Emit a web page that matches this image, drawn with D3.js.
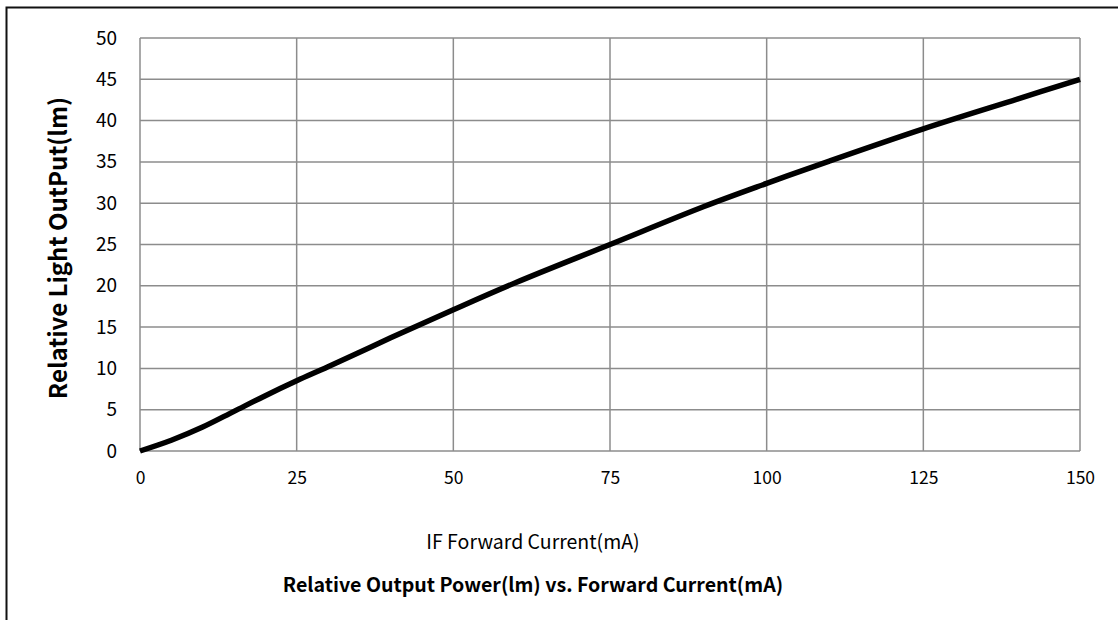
<!doctype html>
<html>
<head>
<meta charset="utf-8">
<script src="https://d3js.org/d3.v7.min.js"></script>
<style>
body { margin: 0; background: #fff; }
text { font-family: "Noto Sans CJK KR", "Noto Sans", sans-serif; fill: #000; }
</style>
</head>
<body>
<script>
var width = 1118;
var height = 620;

// forward current (mA) and relative light output (lm)
var current = [0, 5, 10, 15, 20, 25, 30, 40, 50, 60, 75, 90, 100, 110, 125, 140, 150];
var output  = [0, 1.3, 2.9, 4.8, 6.7, 8.5, 10.2, 13.7, 17.1, 20.4, 25.0, 29.6, 32.4, 35.1, 39.0, 42.6, 45.0];

var xTicks = [0, 25, 50, 75, 100, 125, 150];
var yTicks = [0, 5, 10, 15, 20, 25, 30, 35, 40, 45, 50];

var xTitle = "IF Forward Current(mA)";
var yTitle = "Relative Light OutPut(lm)";
var title = "Relative Output Power(lm) vs. Forward Current(mA)";

var plot = {left: 140, right: 1080, top: 38, bottom: 451};

var svg = d3.select("body").append("svg")
    .attr("width", width)
    .attr("height", height);

// outer frame (only top and left show)
svg.append("path")
    .attr("d", "M6.5,620 V7.5 H1118")
    .attr("fill", "none")
    .attr("stroke", "#111")
    .attr("stroke-width", 2);

var x = d3.scaleLinear().domain([0, 150]).range([plot.left, plot.right]);
var y = d3.scaleLinear().domain([0, 50]).range([plot.bottom, plot.top]);

var grid = svg.append("g");

grid.selectAll("line.h")
    .data(yTicks)
    .enter()
    .append("line")
    .attr("class", "h")
    .attr("x1", plot.left)
    .attr("x2", plot.right)
    .attr("y1", function (d) { return y(d); })
    .attr("y2", function (d) { return y(d); })
    .attr("stroke", "#8c8c8c")
    .attr("stroke-width", 1.5);

grid.selectAll("line.v")
    .data(xTicks)
    .enter()
    .append("line")
    .attr("class", "v")
    .attr("x1", function (d) { return x(d); })
    .attr("x2", function (d) { return x(d); })
    .attr("y1", plot.top)
    .attr("y2", plot.bottom)
    .attr("stroke", "#8c8c8c")
    .attr("stroke-width", 1.5);

// y axis labels
var yAxis = svg.append("g")
    .attr("transform", "translate(" + plot.left + ",0)")
    .call(d3.axisLeft(y).tickValues(yTicks).tickSize(0).tickPadding(23));
yAxis.select(".domain").remove();
yAxis.selectAll("text")
    .style("font-size", "19px");

// x axis labels
var xAxis = svg.append("g")
    .attr("transform", "translate(0," + plot.bottom + ")")
    .call(d3.axisBottom(x).tickValues(xTicks).tickSize(0).tickPadding(21));
xAxis.select(".domain").remove();
xAxis.selectAll("text")
    .style("font-size", "17.5px");

// the curve
var line = d3.line()
    .x(function (d, i) { return x(current[i]); })
    .y(function (d) { return y(d); })
    .curve(d3.curveCatmullRom.alpha(0.5));

svg.append("path")
    .datum(output)
    .attr("d", line)
    .attr("fill", "none")
    .attr("stroke", "#000")
    .attr("stroke-width", 5.5)
    .attr("stroke-linecap", "butt");

svg.append("text")
    .attr("x", 533)
    .attr("y", 549)
    .attr("text-anchor", "middle")
    .style("font-size", "19.5px")
    .text(xTitle);

svg.append("text")
    .attr("x", 533)
    .attr("y", 592)
    .attr("text-anchor", "middle")
    .style("font-size", "19.6px")
    .style("font-weight", "bold")
    .text(title);

svg.append("text")
    .attr("transform", "translate(67,248) rotate(-90)")
    .attr("text-anchor", "middle")
    .style("font-size", "24px")
    .style("font-weight", "bold")
    .text(yTitle);
</script>
</body>
</html>
